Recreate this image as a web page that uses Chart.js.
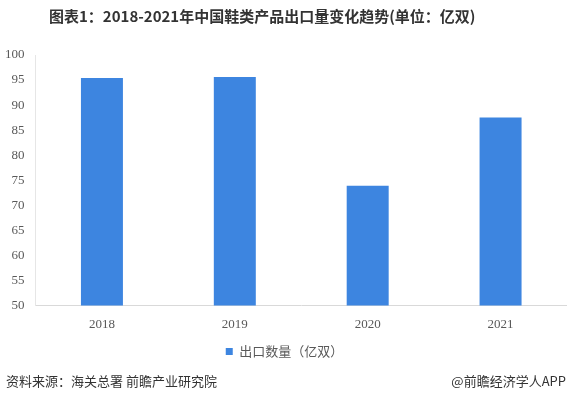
<!DOCTYPE html>
<html>
<head>
<meta charset="utf-8">
<script src="https://cdn.jsdelivr.net/npm/chart.js@4"></script>
<style>
  html, body { margin: 0; padding: 0; background: #fff; }
  #wrap { position: relative; width: 567px; height: 399px; }
  #chart { position: absolute; left: 0; top: 0; }
  .title { position: absolute; left: 49px; top: 5px; font: bold 15px "Noto Sans CJK SC", sans-serif; color: #333; white-space: nowrap; }
  .foot { position: absolute; top: 371px; font: 13px "Noto Sans CJK SC", sans-serif; color: #333; }
</style>
</head>
<body>
<div id="wrap">
  <canvas id="chart" width="567" height="399"></canvas>
  <div class="title" id="title"></div>
  <div class="foot" style="left:6px">资料来源：海关总署 前瞻产业研究院</div>
  <div class="foot" style="right:1px">@前瞻经济学人APP</div>
</div>
<script>
// chart data
const years = ['2018', '2019', '2020', '2021'];
const exportVolume = [95.4, 95.6, 73.9, 87.5];
const seriesName = '出口数量（亿双）';
const titleText = '图表1：2018-2021年中国鞋类产品出口量变化趋势(单位：亿双)';

document.getElementById('title').textContent = titleText;

new Chart(document.getElementById('chart'), {
    type: 'bar',
    data: {
        labels: years,
        datasets: [{
            label: seriesName,
            data: exportVolume,
            backgroundColor: '#3d85e0',
            barPercentage: 0.316,
            categoryPercentage: 1
        }]
    },
    options: {
        responsive: false,
        animation: false,
        layout: { padding: { left: 2, right: 0, top: 55, bottom: 31 } },
        plugins: {
            legend: {
                position: 'bottom',
                labels: {
                    boxWidth: 7,
                    boxHeight: 7,
                    color: '#595959',
                    font: { family: '"Noto Sans CJK SC", sans-serif', size: 13 }
                }
            },
            tooltip: { enabled: false }
        },
        scales: {
            x: {
                grid: { display: false },
                border: { color: '#d9d9d9' },
                ticks: { color: '#595959', font: { family: '"Liberation Serif", serif', size: 13 } }
            },
            y: {
                min: 50,
                max: 100,
                ticks: { stepSize: 5, color: '#595959', font: { family: '"Liberation Serif", serif', size: 13 } },
                grid: { display: false },
                border: { color: '#e6e6e6' }
            }
        }
    }
});
</script>
</body>
</html>
